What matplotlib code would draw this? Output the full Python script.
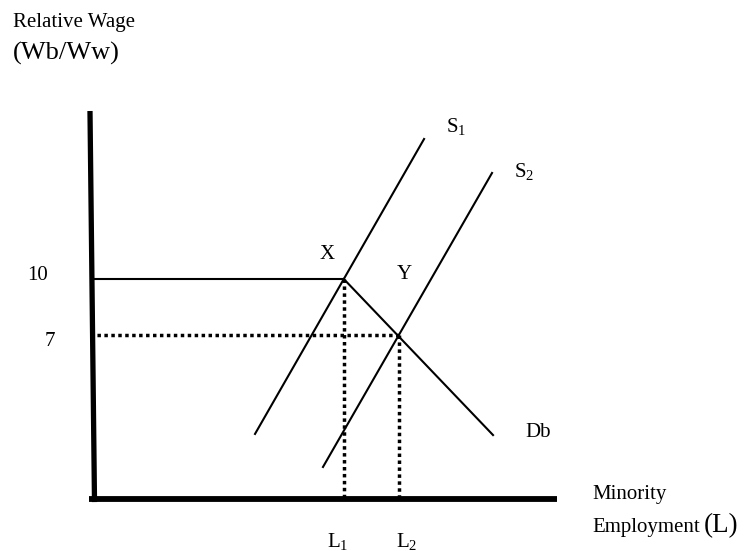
import matplotlib
matplotlib.use("Agg")
import matplotlib.pyplot as plt

plt.rcParams["font.family"] = ["Liberation Serif", "DejaVu Serif"]
plt.rcParams["mathtext.fontset"] = "custom"
plt.rcParams["mathtext.rm"] = "Liberation Serif"
plt.rcParams["mathtext.it"] = "Liberation Serif:italic"

# wage levels (y) and employment at equilibrium (x)
wage_levels = [10, 7]
wage_labels = ["10", "7"]
emp_eq = [50, 61]
eq_names = ["X", "Y"]
emp_labels = ["L$_{\\mathregular{1}}$", "L$_{\\mathregular{2}}$"]

# curves (employment, wage)
s1_emp = [32.3, 66.0]
s1_wage = [1.7, 17.5]
s2_emp = [45.85, 79.55]
s2_wage = [-0.07, 15.68]
db_emp = [50, 79.75]
db_wage = [10, 1.64]

# axis extents (the diagram is not drawn to scale)
axis_floor = -1.8
axis_top = 19.0
emp_max = 92.5

W, H = 744, 551
fig = plt.figure(figsize=(W / 100, H / 100), dpi=100)
ax = fig.add_axes([0, 0, 1, 1])
ax.axis("off")

# pixel mapping of the schematic
px_per_emp = 5.016
px_per_wage = 18.667
ax.set_xlim(-93 / px_per_emp, (W - 93) / px_per_emp)
ax.set_ylim(10 - (H - 279) / px_per_wage, 10 + 279 / px_per_wage)

# axes
ax.plot([-0.8, emp_max], [axis_floor, axis_floor], color="black", lw=4.2,
        solid_capstyle="butt")
ax.plot([0.3, -0.6], [axis_floor - 0.15, axis_top], color="black", lw=3.8,
        solid_capstyle="butt")

# curves
ax.plot(s1_emp, s1_wage, color="black", lw=1.5)
ax.plot(s2_emp, s2_wage, color="black", lw=1.5)
ax.plot(db_emp, db_wage, color="black", lw=1.5)

# wage at X (solid) and Y (dotted)
dot = dict(color="black", lw=2.5, linestyle=(0, (1, 1)), dash_capstyle="butt")
ax.plot([0.3, emp_eq[0]], [wage_levels[0], wage_levels[0]], color="black", lw=1.5)
ax.plot([-0.6, emp_eq[1]], [wage_levels[1], wage_levels[1]], **dot)
for e, w in zip(emp_eq, wage_levels):
    ax.plot([e, e], [w, axis_floor], **dot)


def label(px, py, s, size=15):
    fig.text(px / W, 1 - py / H, s, fontsize=size, ha="left", va="baseline")


label(13, 27, "Relative Wage")
label(13, 60, "(Wb/Ww)", 19)
label(27, 280, wage_labels[0])
label(45, 346, wage_labels[1])
label(320, 259, eq_names[0])
label(397, 279, eq_names[1])
label(446, 132, "S$_{\\mathregular{1}}$")
label(514, 177, "S$_{\\mathregular{2}}$")
label(525, 437, "Db")
label(327, 547, emp_labels[0])
label(396, 547, emp_labels[1])
label(592, 499, "Minority")
label(592, 532, "Employment")
label(704, 532, "(L)", 19.5)

fig.savefig("out.png", dpi=100)
